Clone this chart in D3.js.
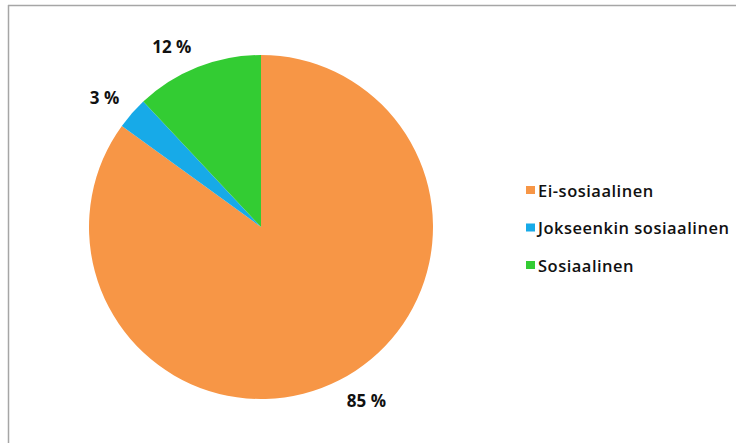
<!DOCTYPE html>
<html>
<head>
<meta charset="utf-8">
<script src="https://cdn.jsdelivr.net/npm/d3@7"></script>
<style>
  html, body { margin: 0; padding: 0; background: #fff; }
  svg { display: block; }
</style>
</head>
<body>
<svg id="chart" width="736" height="443"></svg>
<script>
// Response shares, drawn clockwise from twelve o'clock
const categories = ["Ei-sosiaalinen", "Jokseenkin sosiaalinen", "Sosiaalinen"];
const values = [85, 3, 12];
const colors = ["#F79646", "#17AAE8", "#33CC33"];

const svg = d3.select("#chart");
const W = 736, H = 443;

// chart frame (top and left edges visible)
svg.append("line").attr("x1", 8).attr("y1", 5.5).attr("x2", W).attr("y2", 5.5)
  .attr("stroke", "#a6a6a6").attr("stroke-width", 1.5);
svg.append("line").attr("x1", 8.5).attr("y1", 5).attr("x2", 8.5).attr("y2", H)
  .attr("stroke", "#a6a6a6").attr("stroke-width", 1.5);

const cx = 261, cy = 227, r = 172;
const data = categories.map((c, i) => ({ name: c, value: values[i], color: colors[i] }));

const pie = d3.pie().value(d => d.value).sort(null);
const arcs = pie(data);
const arc = d3.arc().innerRadius(0).outerRadius(r);

const g = svg.append("g").attr("transform", `translate(${cx},${cy})`);
g.selectAll("path.slice").data(arcs).join("path")
  .attr("class", "slice")
  .attr("d", arc)
  .attr("fill", d => d.data.color);

// value labels at the outer end: the label box corner nearest the pie
// sits on a ring just outside the rim, along the slice's mid angle
const ringR = r + 17;
const labels = g.selectAll("text.lbl").data(arcs).join("text")
  .attr("class", "lbl")
  .attr("text-anchor", "middle")
  .attr("dominant-baseline", "central")
  .attr("font-family", "'Open Sans', Lato, sans-serif")
  .attr("font-weight", "bold")
  .attr("font-size", 17)
  .attr("fill", "#111")
  .text(d => d.data.value + " %");
labels.each(function(d) {
  const bb = this.getBBox();
  const a = (d.startAngle + d.endAngle) / 2;
  const sx = Math.sin(a), sy = -Math.cos(a);
  const x = sx * ringR + Math.sign(sx) * bb.width / 2;
  const y = sy * ringR + Math.sign(sy) * 5;
  d3.select(this).attr("x", x).attr("y", y);
});

// legend
const legendY = [190, 227.5, 265];
const legend = svg.append("g").attr("transform", "translate(526,0)");
const rows = legend.selectAll("g").data(data).join("g")
  .attr("transform", (d, i) => `translate(0,${legendY[i]})`);
rows.append("rect").attr("x", 0).attr("y", -4).attr("width", 9).attr("height", 8)
  .attr("fill", d => d.color);
rows.append("text").attr("x", 12).attr("y", 0)
  .attr("dominant-baseline", "central")
  .attr("font-family", "'Open Sans', Lato, sans-serif")
  .attr("font-size", 16.5)
  .attr("font-weight", 600)
  .attr("letter-spacing", 0.5)
  .attr("fill", "#111")
  .text(d => d.name);
</script>
</body>
</html>
